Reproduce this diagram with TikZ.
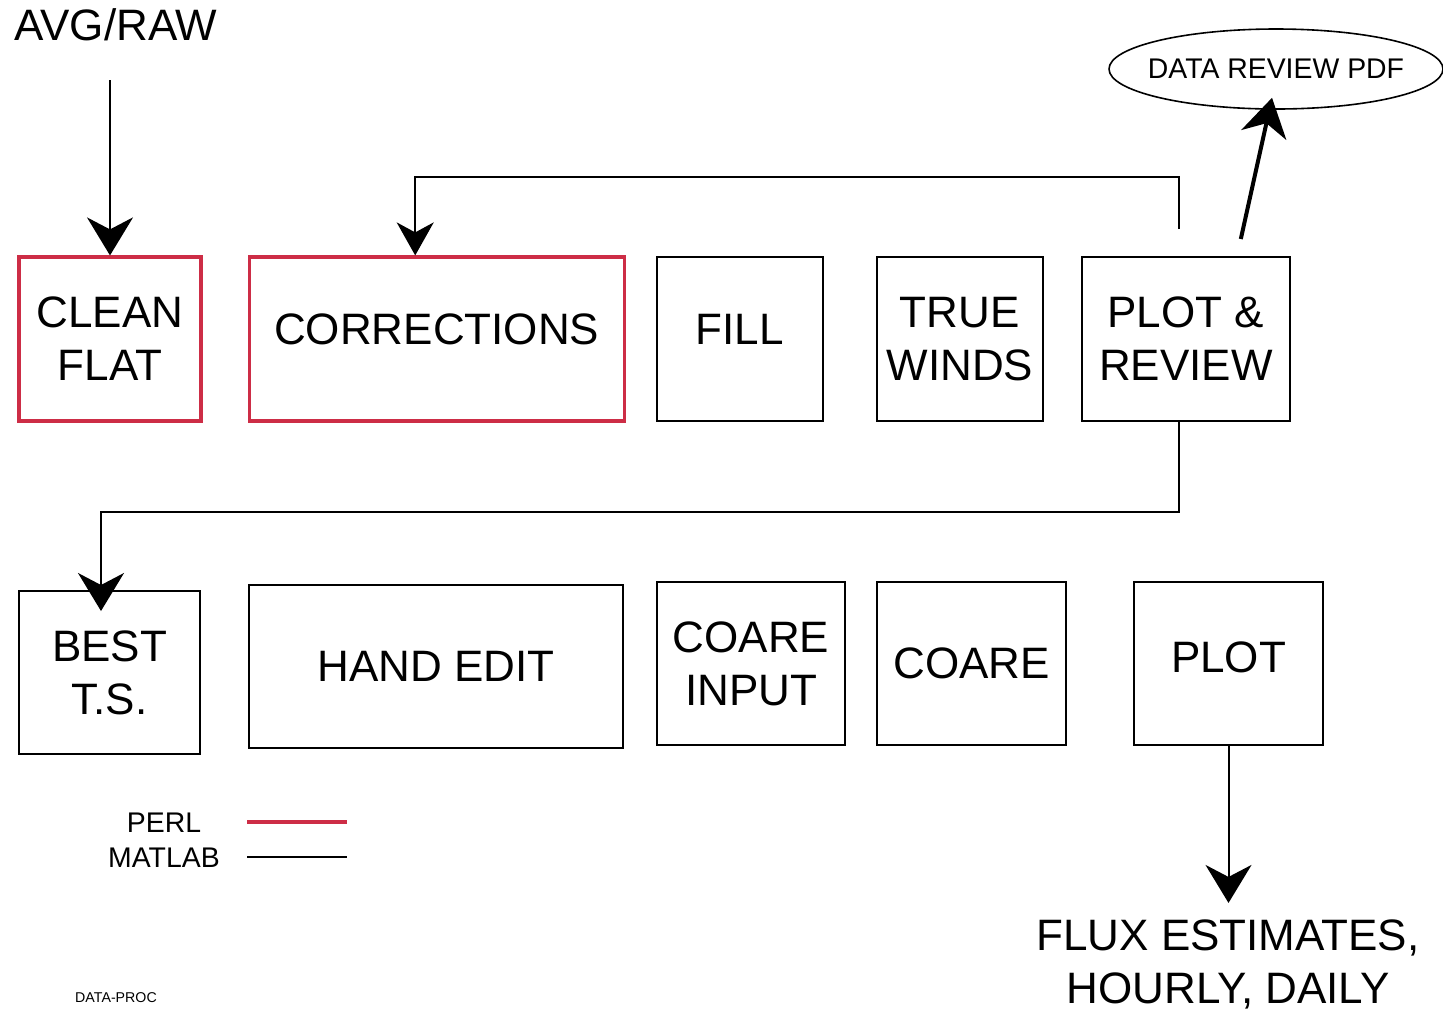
\documentclass[tikz,border=0pt]{standalone}
\usepackage{fontspec}
\setmainfont{Liberation Sans}
\usetikzlibrary{positioning,arrows.meta,shapes.geometric}
\definecolor{perlred}{RGB}{205,45,70}

\begin{document}
\begin{tikzpicture}[
    x=0.5pt, y=-0.5pt,
    >={Stealth[length=19pt,width=23pt,inset=6pt]},
    every node/.style={align=center, font=\fontsize{22}{26.5}\selectfont},
    stage/.style={
        draw,
        line width=1pt,
        inner sep=0pt,
        minimum height=82pt
    },
    perlbox/.style={stage, draw=perlred, line width=1.6pt},
    flow/.style={->, line width=1pt}
]
\useasboundingbox (0,0) rectangle (1443,1014);

% first pass
\node[perlbox, minimum width=91pt] (clean) at (110,339) {CLEAN\\FLAT};
\node[perlbox, minimum width=187.5pt, text depth=10pt, right=22.5pt of clean] (corr) {CORRECTIONS};
\node[stage, minimum width=83pt, text depth=10pt, right=15pt of corr] (fill) {FILL};
\node[stage, minimum width=83pt, right=26pt of fill] (true) {TRUE\\WINDS};
\node[stage, minimum width=104pt, right=18.5pt of true] (plotrev) {PLOT \&\\REVIEW};

% second pass
\node[stage, minimum width=90.5pt, minimum height=81.5pt] (best) at (109.5,672.5) {BEST\\T.S.};
\node[stage, minimum width=187pt, minimum height=81.5pt] (hand) at (436,666.5) {HAND EDIT};
\node[stage, minimum width=94pt, minimum height=81.5pt] (coarein) at (751,663.5) {COARE\\INPUT};
\node[stage, minimum width=94.5pt, minimum height=81.5pt, right=15pt of coarein] (coare) {COARE};
\node[stage, minimum width=94.5pt, minimum height=81.5pt, text depth=6pt, right=33pt of coare] (plot) {PLOT};

% inputs and outputs
\node[inner sep=0pt] (avg) at (116,25) {AVG/RAW};
\node[draw, ellipse, line width=0.8pt, inner xsep=-6.5pt, inner ysep=9pt, minimum width=167pt, minimum height=40pt,
      font=\fontsize{14.2}{17}\selectfont] (pdf) at (1276,69) {DATA REVIEW PDF};
\node[inner sep=0pt] (flux) at (1228,964) {FLUX ESTIMATES,\\HOURLY, DAILY};

% legend
\node[inner sep=0pt, font=\fontsize{14.2}{17}\selectfont] (perl) at (164,823) {PERL};
\node[inner sep=0pt, font=\fontsize{14.2}{17}\selectfont] (matlab) at (164,858) {MATLAB};
\draw[perlred, line width=2pt] (247,822) -- (347,822);
\draw[line width=1pt] (247,857) -- (347,857);
\node[inner sep=0pt, font=\fontsize{7.1}{8}\selectfont] (tag) at (116,998) {DATA-PROC};

\draw[flow] ([yshift=87.5pt]clean.north) -- (clean.north);
\draw[flow, >={Stealth[length=16.5pt,width=18.5pt,inset=5pt]}]
    ([xshift=-3.5pt,yshift=13.5pt]plotrev.north) -- ++(0,-52) -| ([xshift=-10.75pt]corr.north);
\draw[->, line width=2pt] ([xshift=27.5pt,yshift=8.5pt]plotrev.north) -- ([xshift=-2pt,yshift=6pt]pdf.south);
\draw[flow] ([xshift=-3.5pt]plotrev.south) -- ++(0,90) -| ([xshift=-4.25pt,yshift=-10.5pt]best.north);
\draw[flow, shorten >=8pt] (plot.south) -- (plot.south |- flux.north);
\end{tikzpicture}
\end{document}
